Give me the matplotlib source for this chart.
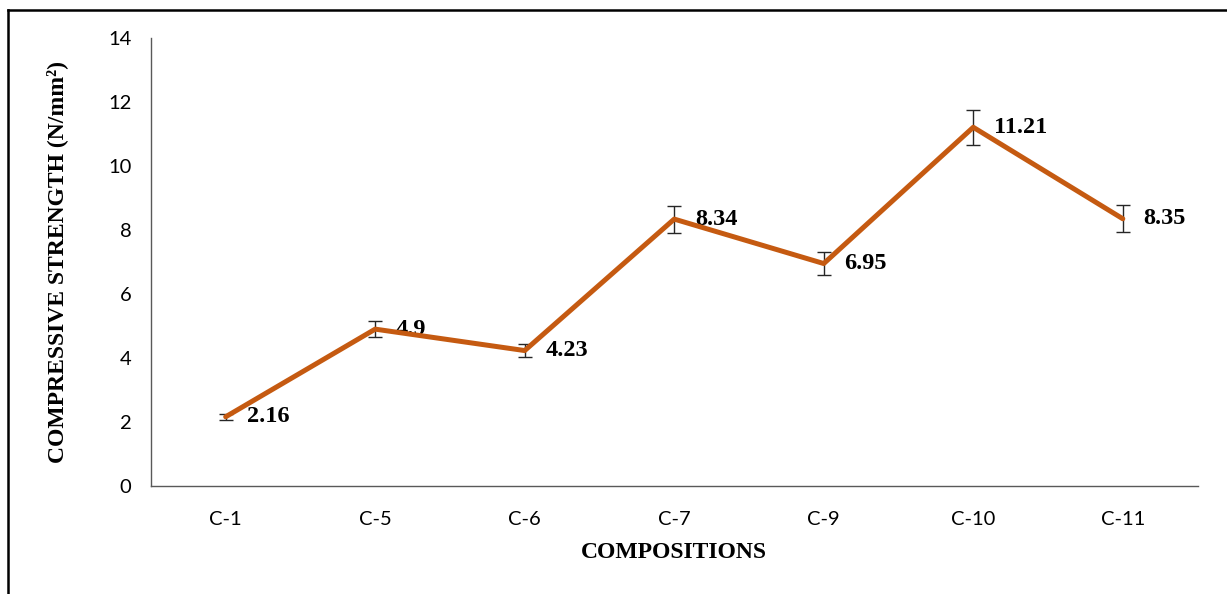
import matplotlib.pyplot as plt
from matplotlib.lines import Line2D

# compressive strength per composition, with error bar half-widths
compositions = ['C-1', 'C-5', 'C-6', 'C-7', 'C-9', 'C-10', 'C-11']
strength = [2.16, 4.9, 4.23, 8.34, 6.95, 11.21, 8.35]
errors = [0.1, 0.25, 0.2, 0.42, 0.36, 0.55, 0.42]
y_ticks = [0, 2, 4, 6, 8, 10, 12, 14]

fig = plt.figure(figsize=(12.27, 5.94), dpi=100)
ax = fig.add_axes([0.123, 0.182, 0.853, 0.754])

x = range(len(compositions))
ax.errorbar(x, strength, yerr=errors, color='#C55A11', linewidth=3.6,
            ecolor='#262626', elinewidth=1.0, capsize=5, capthick=1.0,
            solid_capstyle='round', zorder=3)

for xi, yi in zip(x, strength):
    ax.annotate(f'{yi:g}', (xi, yi), xytext=(15, 0), textcoords='offset points',
                ha='left', va='center', fontsize=17.5, fontweight='bold',
                family='Liberation Serif')

ax.set_xlim(-0.5, len(compositions) - 0.5)
ax.set_ylim(0, 14)
ax.set_xticks(list(x))
ax.set_xticklabels(compositions, family='Lato', fontsize=14.5)
ax.set_yticks(y_ticks)
ax.set_yticklabels([str(v) for v in y_ticks], family='Lato', fontsize=14.5)
ax.tick_params(length=0, pad=14)
ax.tick_params(axis='x', pad=18)

for side in ['top', 'right']:
    ax.spines[side].set_visible(False)
for side in ['left', 'bottom']:
    ax.spines[side].set_color('#595959')
    ax.spines[side].set_linewidth(1.0)

ax.set_xlabel('COMPOSITIONS', family='Liberation Serif', fontweight='bold',
              fontsize=17, labelpad=10)
ax.set_ylabel('COMPRESSIVE STRENGTH (N/mm²)', family='Liberation Serif',
              fontweight='bold', fontsize=17, labelpad=29)

# frame lines along the top and left edge
W, H = 1227, 594
fig.add_artist(Line2D([8 / W, 8 / W], [0, 1 - 10 / H], transform=fig.transFigure,
                      color='black', linewidth=1.8))
fig.add_artist(Line2D([8 / W, 1], [1 - 10 / H, 1 - 10 / H], transform=fig.transFigure,
                      color='black', linewidth=1.8))

fig.savefig('out.png', dpi=100)
